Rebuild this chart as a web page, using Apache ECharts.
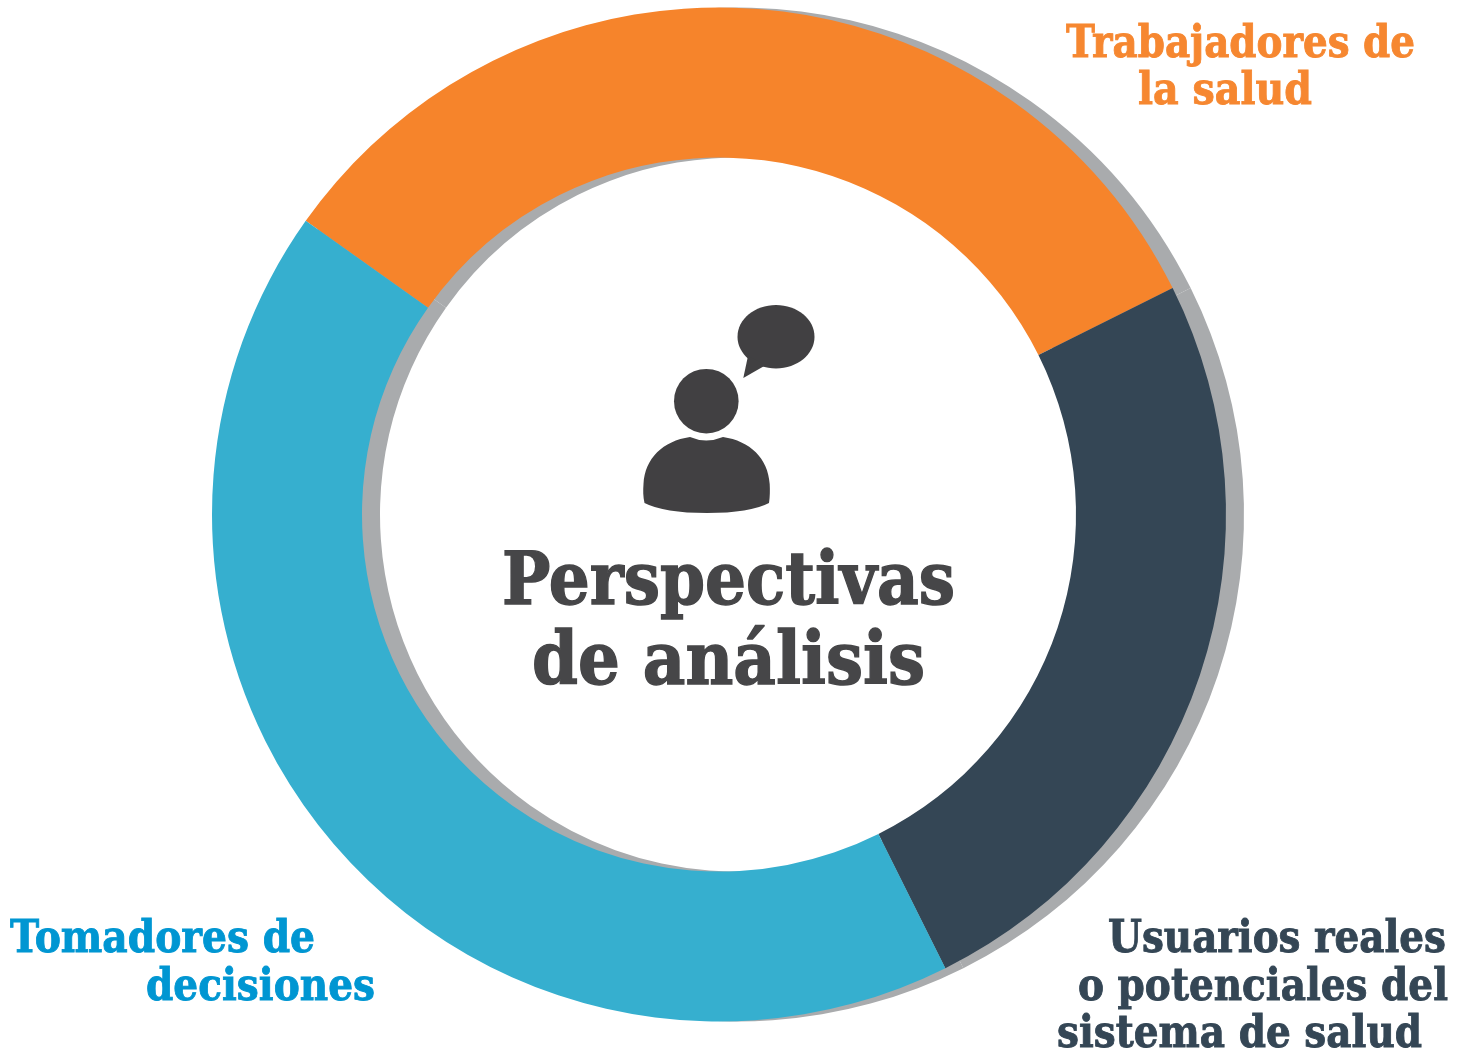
<!DOCTYPE html>
<html>
<head>
<meta charset="utf-8">
<style>html,body{margin:0;padding:0;background:#fff}#chart{width:1468px;height:1053px}</style>
<script src="https://cdn.jsdelivr.net/npm/echarts@6/dist/echarts.min.js"></script>
</head>
<body>
<div id="chart"></div>
<script>
// Data (share of the ring, %)
const categories = ['Trabajadores de la salud', 'Usuarios reales o potenciales del sistema de salud', 'Tomadores de decisiones'];
const shares = [32.8, 25, 42.2];
const sliceColors = ['#F6842B', '#344655', '#36AFCF'];
const shadowColor = '#A9ABAD';
const centerTitle = ['Perspectivas', 'de análisis'];
const labelLines = [
  ['Trabajadores de', 1066, 1415, 57, '#F68730', 44],
  ['la salud', 1138, 1312, 104, '#F68730', 44],
  ['Tomadores de', 10, 315, 952.5, '#0096D2', 44],
  ['decisiones', 146, 375, 1000, '#0096D2', 44],
  ['Usuarios reales', 1108, 1446, 952.5, '#344655', 44],
  ['o potenciales del', 1078, 1448, 1000, '#344655', 44],
  ['sistema de salud', 1057, 1422, 1047, '#344655', 44],
  [centerTitle[0], 502, 955, 604, '#464648', 72],
  [centerTitle[1], 532, 925, 684, '#464648', 72]
];

const FONT = '"DejaVu Serif"';
const ctx = document.createElement('canvas').getContext('2d');
function lineText(line) {
  const [text, x0, x1, base, color, size] = line;
  const font = 'bold ' + size + 'px ' + FONT;
  ctx.font = font;
  const w = ctx.measureText(text).width;
  return {
    type: 'text', x: x0, y: base + size * 0.236, scaleX: (x1 - x0) / w, silent: true,
    style: { x: 0, y: 0, text, fill: color, stroke: color, lineWidth: size > 50 ? 1.4 : 0.9, font, align: 'left', verticalAlign: 'bottom' }
  };
}

echarts.graphic.registerShape('personBody', echarts.graphic.extendPath(
  'M644.5,503 C643,497 643,490 643.5,484 C645,458 663,441 690,437 Q706,444 723,437 C750,441 768,458 769.7,484 C770,490 770,497 769,503 Q750,513 707,513 Q664,513 644.5,503 Z'
));
const iconColor = '#414042';
const icon = [
  { type: 'ellipse', silent: true, shape: { cx: 776, cy: 336.7, rx: 38.5, ry: 31.7 }, style: { fill: iconColor } },
  { type: 'polygon', silent: true, shape: { points: [[748, 356], [743.3, 378], [766, 365]] }, style: { fill: iconColor } },
  { type: 'circle', silent: true, shape: { cx: 706.3, cy: 401.2, r: 32.3 }, style: { fill: iconColor } },
  { type: 'personBody', silent: true, style: { fill: iconColor } }
];

const chart = echarts.init(document.getElementById('chart'), null, { renderer: 'canvas' });
const startAngle = 144.6;
function pieData(colorOf) {
  return categories.map((name, i) => ({ name, value: shares[i], itemStyle: { color: colorOf(i) } }));
}
chart.setOption({
  animation: false,
  backgroundColor: '#fff',
  tooltip: { show: false },
  legend: { show: false },
  series: [
    { type: 'pie', center: [737, 514.5], radius: [357, 507], startAngle, clockwise: true, silent: true,
      label: { show: false }, labelLine: { show: false }, data: pieData(() => shadowColor), z: 1 },
    { type: 'pie', center: [719, 514.5], radius: [357, 507], startAngle, clockwise: true, silent: true,
      label: { show: false }, labelLine: { show: false }, data: pieData(i => sliceColors[i]), z: 2 }
  ],
  graphic: { elements: icon.concat(labelLines.map(lineText)) }
});
</script>
</body>
</html>
